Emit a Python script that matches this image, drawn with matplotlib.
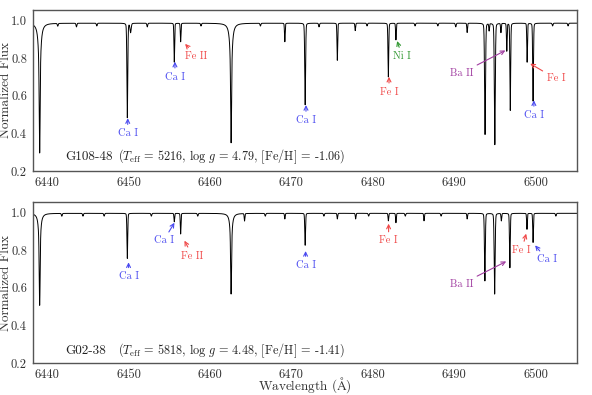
import numpy as np
import matplotlib
matplotlib.use("Agg")
import matplotlib.pyplot as plt

plt.rcParams['font.family'] = ['cmr10', 'DejaVu Serif']
plt.rcParams['mathtext.fontset'] = 'cm'
plt.rcParams['axes.unicode_minus'] = False
plt.rcParams['axes.formatter.use_mathtext'] = True

# ---------------- data: absorption lines ----------------
# G108-48 (top panel)
g108_continuum = 0.985
g108_wave = [6439.08, 6449.85, 6450.25, 6455.62, 6456.40, 6462.60, 6469.20, 6471.70,
             6475.65, 6477.85, 6481.92, 6482.85, 6491.60, 6493.80, 6494.30, 6495.00,
             6495.75, 6496.47, 6496.90, 6498.97, 6499.70,
             6441.3, 6443.6, 6446.1, 6452.3, 6458.9, 6466.2, 6473.4, 6479.3,
             6485.2, 6488.0, 6490.2, 6502.1, 6504.0]
g108_depth = [0.70, 0.51, 0.05, 0.21, 0.10, 0.645, 0.10, 0.44,
              0.20, 0.04, 0.29, 0.09, 0.05, 0.60, 0.04, 0.655,
              0.05, 0.15, 0.47, 0.21, 0.42,
              0.015, 0.02, 0.015, 0.02, 0.015, 0.015, 0.02, 0.015,
              0.015, 0.015, 0.02, 0.015, 0.015]
g108_width = [0.30, 0.10, 0.14, 0.08, 0.08, 0.30, 0.08, 0.10,
              0.08, 0.08, 0.09, 0.08, 0.08, 0.11, 0.08, 0.11,
              0.08, 0.08, 0.09, 0.08, 0.09,
              0.10, 0.10, 0.10, 0.10, 0.10, 0.10, 0.10, 0.10,
              0.10, 0.10, 0.10, 0.10, 0.10]

# G02-38 (bottom panel)
g02_continuum = 0.995
g02_wave = [6439.08, 6449.85, 6455.62, 6456.40, 6462.60, 6464.25, 6469.20, 6471.70,
            6475.65, 6477.90, 6481.92, 6482.85, 6486.30, 6491.60, 6493.78, 6494.98,
            6495.80, 6496.85, 6498.95, 6499.70,
            6441.8, 6444.4, 6447.0, 6452.8, 6458.5, 6466.8, 6474.0, 6479.5,
            6484.0, 6488.4, 6502.5]
g02_depth = [0.49, 0.24, 0.045, 0.11, 0.43, 0.04, 0.03, 0.17,
             0.03, 0.03, 0.04, 0.05, 0.04, 0.03, 0.36, 0.43,
             0.04, 0.29, 0.085, 0.155,
             0.015, 0.015, 0.015, 0.015, 0.015, 0.015, 0.015, 0.015,
             0.015, 0.015, 0.015]
g02_width = [0.26, 0.09, 0.08, 0.08, 0.26, 0.08, 0.08, 0.09,
             0.08, 0.08, 0.08, 0.08, 0.08, 0.08, 0.10, 0.11,
             0.08, 0.09, 0.08, 0.08,
             0.10, 0.10, 0.10, 0.10, 0.10, 0.10, 0.10, 0.10,
             0.10, 0.10, 0.10]

# annotations: (label, color key, tip wavelength, tip flux, text wavelength, text flux)
g108_notes = [
    ("Ca I", "ca", 6449.90, 0.48, 6449.90, 0.40),
    ("Ca I", "ca", 6455.70, 0.78, 6455.70, 0.70),
    ("Fe II", "fe", 6456.95, 0.875, 6458.30, 0.81),
    ("Ca I", "ca", 6471.80, 0.55, 6471.80, 0.47),
    ("Fe I", "fe", 6482.00, 0.70, 6482.00, 0.62),
    ("Ni I", "ni", 6483.00, 0.89, 6483.60, 0.81),
    ("Ba II", "ba", 6496.30, 0.84, 6490.90, 0.72),
    ("Fe I", "fe", 6499.35, 0.77, 6502.50, 0.69),
    ("Ca I", "ca", 6499.80, 0.575, 6499.80, 0.497),
]
g02_notes = [
    ("Ca I", "ca", 6450.00, 0.735, 6450.00, 0.66),
    ("Ca I", "ca", 6455.64, 0.945, 6454.30, 0.85),
    ("Fe II", "fe", 6456.87, 0.85, 6457.85, 0.77),
    ("Ca I", "ca", 6471.75, 0.795, 6471.75, 0.72),
    ("Fe I", "fe", 6481.95, 0.94, 6481.95, 0.85),
    ("Ba II", "ba", 6496.40, 0.74, 6490.90, 0.62),
    ("Fe I", "fe", 6498.85, 0.887, 6498.30, 0.80),
    ("Ca I", "ca", 6499.95, 0.825, 6501.40, 0.75),
]

g108_label = ("G108-48", r"($T_{\rm eff}$ = 5216, $\log\,g$ = 4.79, [Fe/H] = -1.06)")
g02_label = ("G02-38", r"($T_{\rm eff}$ = 5818, $\log\,g$ = 4.48, [Fe/H] = -1.41)")

colors = {"ca": "#4a4af0", "fe": "#f04848", "ni": "#2f972f", "ba": "#a03ca0"}

grid = np.arange(6438.0, 6505.4, 0.01)


def spectrum(cont, waves, depths, widths):
    flux = np.full_like(grid, cont)
    for w0, d, s in zip(waves, depths, widths):
        x = grid - w0
        strong = s > 0.2
        sig = 0.05 if strong else 0.55 * s
        gam = 0.5 * s if strong else 0.45 * s
        eta = 0.45 if strong else 0.3
        gauss = np.exp(-0.5 * (x / sig) ** 2)
        lor = 1.0 / (1.0 + (x / gam) ** 2)
        prof = (1 - eta) * gauss + eta * lor
        flux *= (1.0 - d * prof)
    return flux


fig = plt.figure(figsize=(5.92, 3.95), dpi=100)
ax1 = fig.add_axes([0.0549, 0.5671, 0.9198, 0.4076])
ax2 = fig.add_axes([0.0549, 0.0802, 0.9198, 0.4084])

panels = [
    (ax1, spectrum(g108_continuum, g108_wave, g108_depth, g108_width), g108_notes, g108_label, 0.068),
    (ax2, spectrum(g02_continuum, g02_wave, g02_depth, g02_width), g02_notes, g02_label, 0.058),
]

for ax, flux, notes, label, ylab in panels:
    ax.plot(grid, flux, color="black", lw=0.7)
    ax.set_xlim(6438.2, 6505.1)
    ax.set_ylim(0.2, 1.055)
    ax.set_yticks([0.2, 0.4, 0.6, 0.8, 1.0])
    ax.set_yticklabels(["0.2", "0.4", "0.6", "0.8", "1.0"])
    ax.set_xticks([6440, 6450, 6460, 6470, 6480, 6490, 6500])
    ax.set_xticklabels(["6440", "6450", "6460", "6470", "6480", "6490", "6500"])
    ax.tick_params(length=0, labelsize=9, colors="#333333", pad=4)
    for sp in ax.spines.values():
        sp.set_color("#555555")
        sp.set_linewidth(1.0)
    ax.set_ylabel("Normalized Flux", fontsize=9.5, color="#333333")
    ax.yaxis.set_label_coords(-0.038, 0.5)
    for txt, ck, xw, yf, tx, ty in notes:
        c = colors[ck]
        ax.annotate(txt, xy=(xw, yf), xytext=(tx, ty), color=c, fontsize=7.5,
                    ha="center", va="center",
                    arrowprops=dict(arrowstyle="->", color=c, lw=0.8,
                                    shrinkA=1, shrinkB=0, mutation_scale=7))
    ax.text(0.061, ylab, label[0], transform=ax.transAxes, fontsize=9.5,
            color="#222222", va="baseline", ha="left")
    ax.text(0.157, ylab, label[1], transform=ax.transAxes, fontsize=8.8,
            color="#222222", va="baseline", ha="left")

ax2.set_xlabel(r"Wavelength ($\mathrm{\AA}$)", fontsize=9.5, color="#333333",
               va="baseline")
ax2.xaxis.set_label_coords(0.5, -0.163)

fig.savefig("out.png", dpi=100)
